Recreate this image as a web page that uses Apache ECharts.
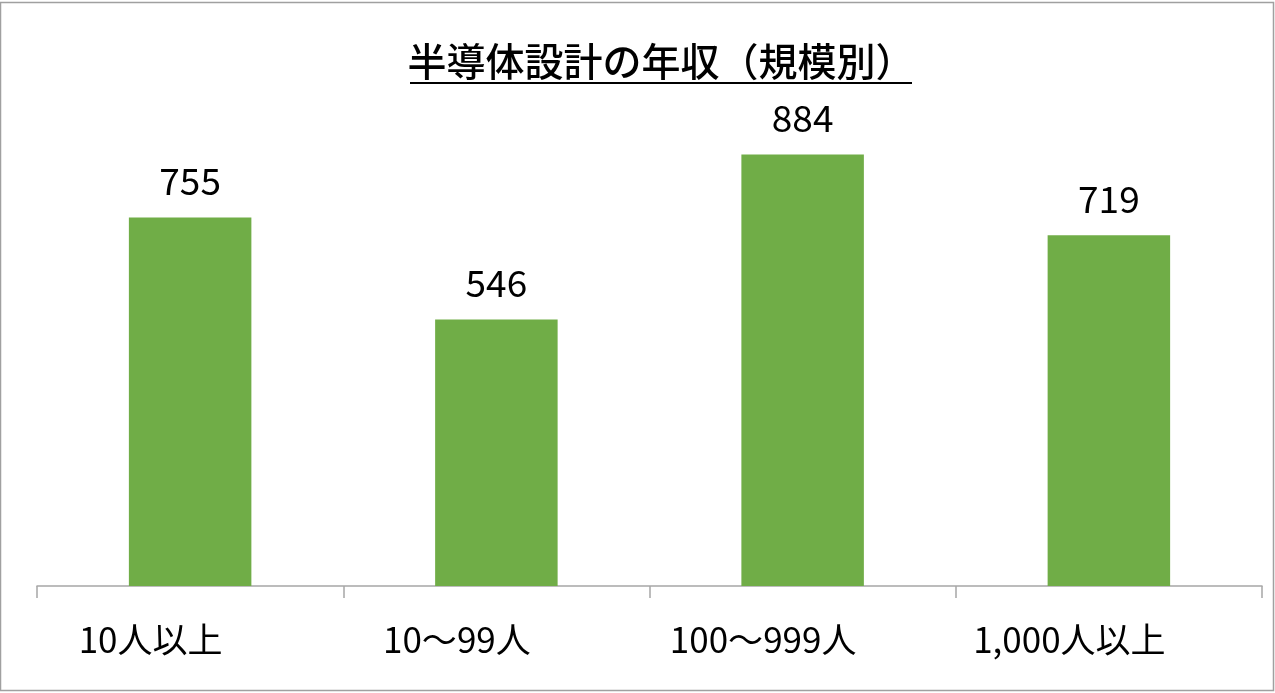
<!DOCTYPE html>
<html>
<head>
<meta charset="utf-8">
<script src="https://cdn.jsdelivr.net/npm/echarts@6/dist/echarts.min.js"></script>
<style>
html,body{margin:0;padding:0;background:#fff;}
#c{width:1275px;height:693px;}
</style>
</head>
<body>
<div id="c"></div>
<script>
const categories = ['10人以上', '10～99人', '100～999人', '1,000人以上'];
const values = [755, 546, 884, 719];
const titleText = '半導体設計の年収（規模別）';

const chart = echarts.init(document.getElementById('c'));
const FONT = '"Noto Sans CJK JP", "Noto Sans", sans-serif';
chart.setOption({
  animation: false,
  backgroundColor: '#fff',
  grid: { left: 37, right: 13, top: 98, bottom: 107, containLabel: false },
  graphic: [
    { type: 'rect', shape: { x: 0.5, y: 2.5, width: 1273, height: 688 },
      style: { fill: 'none', stroke: '#a0a0a0', lineWidth: 1.5 }, silent: true },
    { type: 'text', x: 661, y: 61, style: { text: titleText, font: '500 39px ' + FONT,
      fill: '#000', textAlign: 'center', textVerticalAlign: 'middle' } },
    { type: 'line', shape: { x1: 410, y1: 83, x2: 912, y2: 83 },
      style: { stroke: '#000', lineWidth: 2.2 } }
  ],
  xAxis: {
    type: 'category',
    data: categories,
    axisLine: { lineStyle: { color: '#a6a6a6', width: 1.5 } },
    axisTick: { show: true, length: 12, alignWithLabel: false, lineStyle: { color: '#a6a6a6', width: 1.5 } },
    axisLabel: { color: '#000', fontSize: 35, fontFamily: FONT, margin: 36, interval: 0,
      padding: [0, 79, 0, 0] }
  },
  yAxis: {
    type: 'value', min: 0, max: 1000, interval: 100,
    show: false, splitLine: { show: false }
  },
  series: [{
    type: 'bar',
    data: values,
    barWidth: '40%',
    itemStyle: { color: '#70ad47' },
    label: { show: true, position: 'top', distance: 18, color: '#000',
      fontSize: 37, fontFamily: FONT }
  }]
});
</script>
</body>
</html>
